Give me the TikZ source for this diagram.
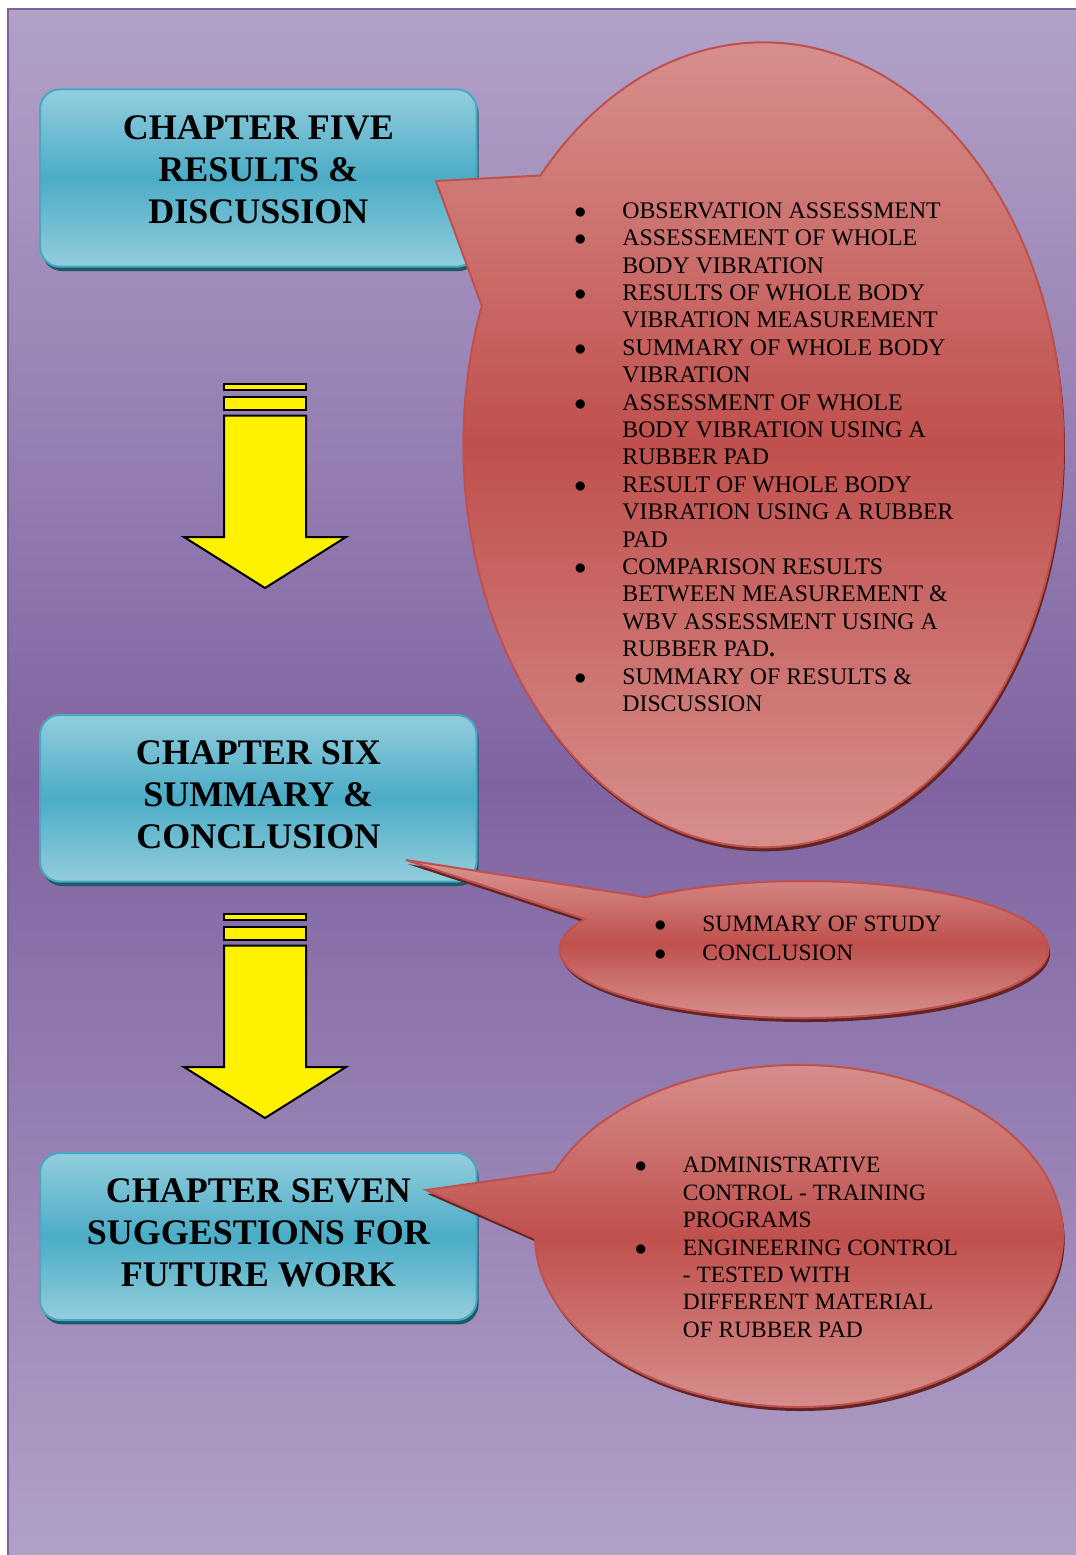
\documentclass[tikz,border=0pt]{standalone}
\usepackage{fontspec}
\setmainfont{Liberation Serif}
\usetikzlibrary{shadows}
\definecolor{bgl}{HTML}{B1A1C7}
\definecolor{bgd}{HTML}{8064A2}
\definecolor{bgline}{HTML}{7F63A1}
\definecolor{boxl}{HTML}{93CDDD}
\definecolor{boxd}{HTML}{4BACC6}
\definecolor{boxline}{HTML}{46A9C4}
\definecolor{boxsh}{HTML}{215968}
\definecolor{cl}{HTML}{D99694}
\definecolor{cd}{HTML}{C0504D}
\definecolor{csh}{HTML}{632523}
\newcommand{\cbul}{\makebox[24pt][l]{$\bullet$}}
\newcommand{\cind}{\hspace*{24pt}}
\begin{document}
\begin{tikzpicture}[x=0.5pt,y=-0.5pt,
  chapbox/.style={draw=boxline, line width=1pt, rounded corners=10pt,
    top color=boxl, bottom color=boxl, middle color=boxd,
    minimum width=218.3pt, inner sep=0pt,
    drop shadow={shadow xshift=1pt, shadow yshift=-2.2pt, fill=boxsh, opacity=1}},
  chaptitle/.style={font=\fontsize{18pt}{21pt}\selectfont\bfseries, align=center, inner sep=0pt, anchor=north},
  bubble/.style={draw=cd, line width=1pt, top color=cl, bottom color=cl, middle color=cd,
    drop shadow={shadow xshift=0.8pt, shadow yshift=-2pt, fill=csh, opacity=1}},
  bubtext/.style={font=\fontsize{11.7pt}{13.7pt}\selectfont, align=left, inner sep=0pt, anchor=north west},
  yarrow/.style={fill=yellow, draw=black, line width=1pt, line join=miter}
]
\useasboundingbox (0,0) rectangle (1076,1555);
\fill[white] (0,0) rectangle (1076,1555);
% background
\path[top color=bgl, bottom color=bgl, middle color=bgd] (7.5,9) rectangle (1080,1560);
\draw[bgline, line width=1pt] (7.5,1560) -- (7.5,9) -- (1080,9);

% chapter boxes
\node[chapbox, minimum height=88.7pt] (box5) at (258.3,178) {};
\node[chapbox, minimum height=83.3pt] (box6) at (258.3,798.3) {};
\node[chapbox, minimum height=83.5pt] (box7) at (258.3,1236.5) {};

% arrows
\foreach \dy in {0,530}{
  \begin{scope}[shift={(0,\dy)}]
    \draw[yarrow] (224,383.5) rectangle (306,390);
    \draw[yarrow] (224,396.5) rectangle (306,409.5);
    \draw[yarrow] (224,415.5) -- (306,415.5) -- (306,537) -- (346,537) -- (265,588)
       -- (184,537) -- (224,537) -- cycle;
  \end{scope}
}

% callouts
\path[bubble] (436,181) -- (540.4,175.5)
   arc[start angle=222, end angle=560.2, x radius=300, y radius=402.5] -- cycle;
\path[bubble] (406,860) -- (646.1,897.2)
   arc[start angle=229.8, end angle=566.4, x radius=244.6, y radius=68.5] -- cycle;
\path[bubble] (426,1190) -- (554.2,1171.9)
   arc[start angle=202, end angle=539.3, x radius=264, y radius=171] -- cycle;

% titles
\node[chaptitle] (t5) at (258.3,115.5) {CHAPTER FIVE\\RESULTS \&\\DISCUSSION};
\node[chaptitle] (t6) at (258.3,740.5) {CHAPTER SIX\\SUMMARY \&\\CONCLUSION};
\node[chaptitle] (t7) at (258.3,1178.5) {CHAPTER SEVEN\\SUGGESTIONS FOR\\FUTURE WORK};

% bubble texts
\node[bubtext, font=\fontsize{11.9pt}{13.7pt}\selectfont] (c5) at (574,202.2) {%
\cbul OBSERVATION ASSESSMENT\\
\cbul ASSESSEMENT OF WHOLE\\
\cind BODY VIBRATION\\
\cbul RESULTS OF WHOLE BODY\\
\cind VIBRATION MEASUREMENT\\
\cbul SUMMARY OF WHOLE BODY\\
\cind VIBRATION\\
\cbul ASSESSMENT OF WHOLE\\
\cind BODY VIBRATION USING A\\
\cind RUBBER PAD\\
\cbul RESULT OF WHOLE BODY\\
\cind VIBRATION USING A RUBBER\\
\cind PAD\\
\cbul COMPARISON RESULTS\\
\cind BETWEEN MEASUREMENT \&\\
\cind WBV ASSESSMENT USING A\\
\cind RUBBER PAD\textbf{.}\\
\cbul SUMMARY OF RESULTS \&\\
\cind DISCUSSION};
\node[bubtext, font=\fontsize{11.7pt}{14.15pt}\selectfont] (c6) at (654,916) {%
\cbul SUMMARY OF STUDY\\
\cbul CONCLUSION};
\node[bubtext] (c7) at (634.5,1157) {%
\cbul ADMINISTRATIVE\\
\cind CONTROL - TRAINING\\
\cind PROGRAMS\\
\cbul ENGINEERING CONTROL\\
\cind - TESTED WITH\\
\cind DIFFERENT MATERIAL\\
\cind OF RUBBER PAD};
\end{tikzpicture}
\end{document}
